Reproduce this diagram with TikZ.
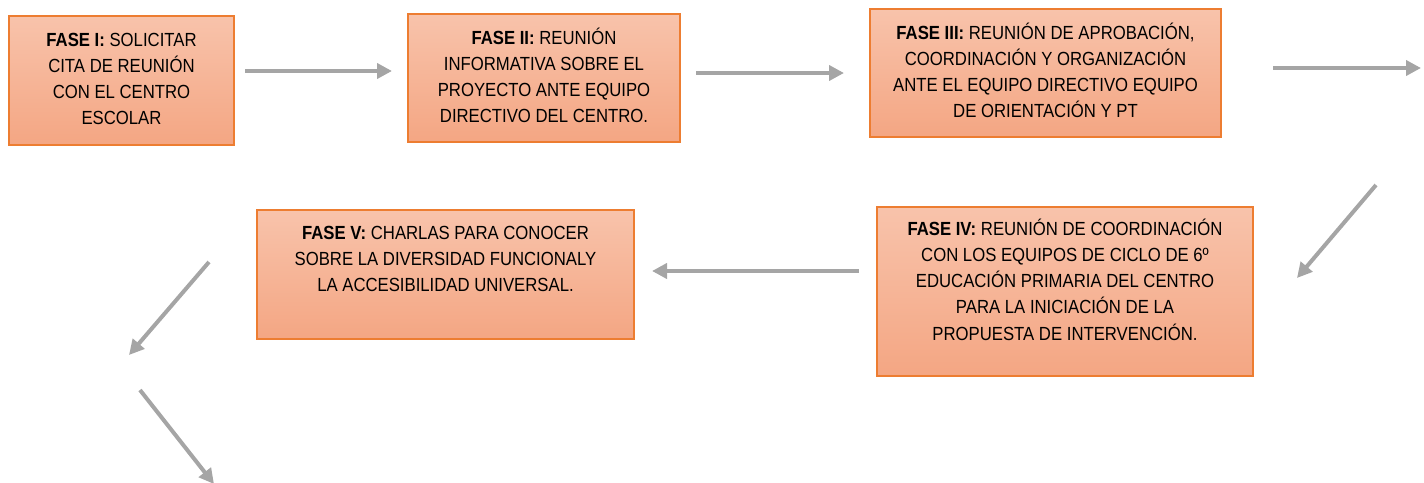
\documentclass[tikz,border=0pt]{standalone}
\usepackage{fontspec}
\setmainfont{Liberation Sans}[FakeStretch=0.88]
\usetikzlibrary{arrows.meta}
\definecolor{boxtop}{HTML}{F8C3AB}
\definecolor{boxbot}{HTML}{F4A683}
\definecolor{boxline}{HTML}{ED7D31}
\definecolor{arrowgray}{HTML}{A5A5A5}
\newcommand{\fasetext}[4]{\parbox[c][#2pt][t]{#1pt}{\centering\fontsize{19}{26.3}\selectfont\vspace*{#3pt}\rule{0pt}{17pt}#4\par}}
\begin{document}
\begin{tikzpicture}[x=1pt,y=-1pt,
  fase/.style={draw=boxline, line width=1.2pt, top color=boxtop, bottom color=boxbot, inner sep=0pt, outer sep=0pt},
  flow/.style={draw=arrowgray, line width=4pt, -{Triangle[length=15pt,width=15pt]}}]
\useasboundingbox (0,0) rectangle (1424,482);
\node[fase] (f1) at (121.5,80.5) {\fasetext{225}{129}{13}{\textbf{FASE I:} SOLICITAR\\CITA DE REUNIÓN\\CON EL CENTRO\\ESCOLAR}};
\node[fase] (f2) at (544,78) {\fasetext{272}{128}{13}{\textbf{FASE II:} REUNIÓN\\INFORMATIVA SOBRE EL\\PROYECTO ANTE EQUIPO\\DIRECTIVO DEL CENTRO.}};
\node[fase] (f3) at (1045.5,73) {\fasetext{351}{128}{13}{\textbf{FASE III:} REUNIÓN DE APROBACIÓN,\\COORDINACIÓN Y ORGANIZACIÓN\\ANTE EL EQUIPO DIRECTIVO EQUIPO\\DE ORIENTACIÓN Y PT}};
\node[fase] (f4) at (1065,291.5) {\fasetext{376}{169}{11}{\textbf{FASE IV:} REUNIÓN DE COORDINACIÓN\\CON LOS EQUIPOS DE CICLO DE 6º\\EDUCACIÓN PRIMARIA DEL CENTRO\\PARA LA INICIACIÓN DE LA\\PROPUESTA DE INTERVENCIÓN.}};
\node[fase] (f5) at (445.5,274.5) {\fasetext{377}{129}{12}{\textbf{FASE V:} CHARLAS PARA CONOCER\\SOBRE LA DIVERSIDAD FUNCIONALY\\LA ACCESIBILIDAD UNIVERSAL.}};
\coordinate (a1s) at (245,71); \coordinate (a1e) at (392,71);
\coordinate (a2s) at (696,73); \coordinate (a2e) at (844,73);
\coordinate (a3s) at (1273,68); \coordinate (a3e) at (1421,68);
\coordinate (a4s) at (1376,185); \coordinate (a4e) at (1297,278);
\coordinate (a5s) at (859,271); \coordinate (a5e) at (652,271);
\coordinate (a6s) at (209,262); \coordinate (a6e) at (129,355);
\coordinate (a7s) at (140,390); \coordinate (a7e) at (214,484);
\draw[flow] (a1s) -- (a1e);
\draw[flow] (a2s) -- (a2e);
\draw[flow] (a3s) -- (a3e);
\draw[flow] (a4s) -- (a4e);
\draw[flow] (a5s) -- (a5e);
\draw[flow] (a6s) -- (a6e);
\draw[flow] (a7s) -- (a7e);
\end{tikzpicture}
\end{document}
